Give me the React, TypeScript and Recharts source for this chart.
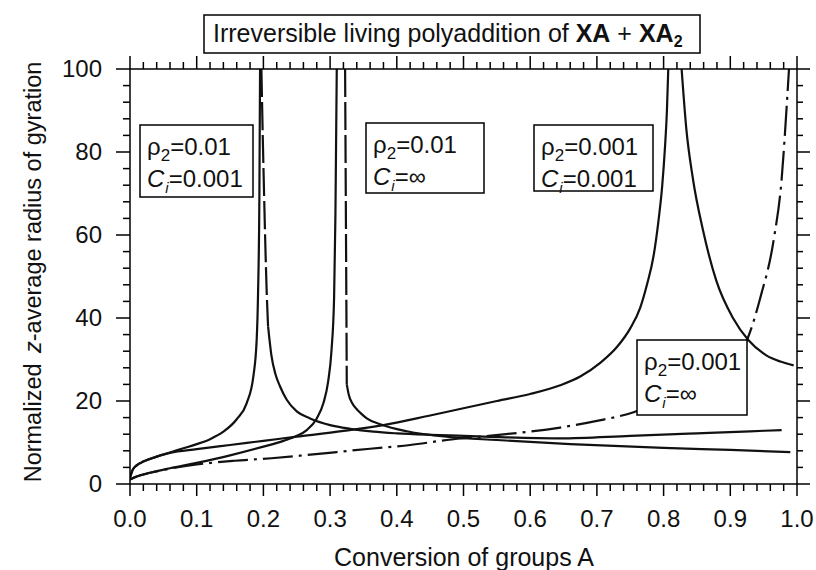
import React from "react";
import { LineChart, Line, XAxis, YAxis } from "recharts";

const FONT = '"Liberation Sans", Arial, Helvetica, sans-serif';

// axis tick labels
const X_LABELS = [0, 0.1, 0.2, 0.3, 0.4, 0.5, 0.6, 0.7, 0.8, 0.9, 1.0];
const Y_LABELS = [0, 20, 40, 60, 80, 100];
// minor tick positions (every 0.02 on x, every 4 on y)
const X_TICKS = Array.from({ length: 51 }, (_, i) => (i * 2) / 100);
const Y_TICKS = Array.from({ length: 26 }, (_, i) => i * 4);

// rho2 = 0.01, Ci = 0.001 : pre-gel branch
const A_X = [0, 0.004, 0.01, 0.02, 0.04, 0.06, 0.08, 0.1, 0.12, 0.14, 0.16, 0.175, 0.185, 0.19, 0.192, 0.194, 0.195];
const A_Y = [1.5, 3.4, 4.5, 5.4, 6.6, 7.6, 8.6, 9.6, 10.8, 12.6, 15.6, 19.5, 26, 35, 46, 70, 100];
// rho2 = 0.01, Ci = 0.001 : post-gel branch (dashed part, then solid)
const E_DASH_X = [0.197, 0.199, 0.201, 0.203, 0.205, 0.207];
const E_DASH_Y = [100, 84, 70, 57, 46, 38];
const E_X = [0.207, 0.212, 0.218, 0.225, 0.235, 0.25, 0.27, 0.3, 0.33, 0.365, 0.4, 0.465, 0.55, 0.645, 0.75, 0.85, 0.93, 0.977];
const E_Y = [38, 31, 26.5, 23.5, 20.3, 17.5, 15.8, 14.2, 13.3, 12.6, 12.2, 11.8, 11.3, 11.0, 11.6, 12.2, 12.7, 13];

// rho2 = 0.01, Ci = inf : pre-gel branch
const B_X = [0, 0.01, 0.03, 0.06, 0.1, 0.15, 0.2, 0.23, 0.25, 0.265, 0.28, 0.29, 0.297, 0.302, 0.306, 0.308, 0.31];
const B_Y = [1.1, 1.8, 2.7, 3.8, 5.1, 6.9, 9.0, 10.4, 11.6, 13, 15.8, 19.5, 24.6, 32, 45, 65, 100];
// rho2 = 0.01, Ci = inf : post-gel branch
const G_DASH_X = [0.3225, 0.3235, 0.3245, 0.325];
const G_DASH_Y = [100, 70, 40, 24];
const G_X = [0.325, 0.328, 0.333, 0.34, 0.345, 0.355, 0.375, 0.415, 0.48, 0.55, 0.66, 0.8, 0.9, 0.99];
const G_Y = [24, 21.5, 19.5, 18, 17.2, 15.8, 14.4, 12.7, 11.3, 10.6, 9.6, 8.7, 8.2, 7.7];

// rho2 = 0.001, Ci = 0.001 : pre-gel and post-gel
const F_X = [0, 0.004, 0.01, 0.02, 0.04, 0.06, 0.1, 0.15, 0.2, 0.25, 0.32, 0.38, 0.45, 0.55, 0.6, 0.645, 0.675, 0.705, 0.73, 0.75, 0.765, 0.775, 0.785, 0.792, 0.798, 0.802, 0.805, 0.807];
const F_Y = [1.5, 3.4, 4.5, 5.4, 6.6, 7.5, 8.4, 9.4, 10.4, 11.4, 12.8, 14.2, 16.5, 20, 21.7, 23.8, 25.9, 29.2, 33, 37.5, 42.5, 48, 55, 63, 72, 81, 90, 100];
const H_X = [0.827, 0.834, 0.844, 0.859, 0.879, 0.904, 0.927, 0.954, 0.975, 0.995];
const H_Y = [100, 85.7, 73.5, 61.2, 49, 40, 34.7, 31, 29.5, 28.6];

// rho2 = 0.001, Ci = inf
const D_X = [0, 0.01, 0.03, 0.06, 0.1, 0.157, 0.212, 0.26, 0.31, 0.36, 0.42, 0.475, 0.545, 0.645, 0.7, 0.755, 0.8, 0.85, 0.9, 0.925, 0.945, 0.965, 0.977, 0.985, 0.988];
const D_Y = [1.1, 1.8, 2.7, 3.7, 4.7, 5.6, 6.2, 6.9, 7.7, 8.5, 9.4, 10.6, 11.7, 13.6, 15.2, 17.3, 20.2, 24, 29.5, 34.7, 44.9, 58.8, 73.5, 92.2, 100];

const zip = (xs: number[], ys: number[]) => xs.map((x, i) => ({ x, y: ys[i] }));

const NOTES = [
  { rho: "0.01", ci: "0.001", x: 140, y: 125, w: 113, h: 72 },
  { rho: "0.01", ci: "\u221e", x: 366, y: 123, w: 118, h: 70 },
  { rho: "0.001", ci: "0.001", x: 534, y: 125, w: 119, h: 66 },
  { rho: "0.001", ci: "\u221e", x: 637, y: 340, w: 110, h: 75 },
];

const near = (list: number[], v: number) => list.some((t) => Math.abs(t - v) < 1e-9);

const BottomTick = (props: any) => {
  const { x, y, payload } = props;
  const major = near(X_LABELS, payload.value);
  return (
    <g>
      <line x1={x} x2={x} y1={y} y2={y + (major ? 12 : 7)} stroke="#000" strokeWidth={1.5} />
      {major && (
        <text x={x} y={y + 43} textAnchor="middle" fontSize={24} fontFamily={FONT} fill="#111">
          {payload.value.toFixed(1)}
        </text>
      )}
    </g>
  );
};

const TopTick = (props: any) => {
  const { x, y, payload } = props;
  const major = near(X_LABELS, payload.value);
  return <line x1={x} x2={x} y1={y} y2={y - (major ? 13 : 7)} stroke="#000" strokeWidth={1.5} />;
};

const LeftTick = (props: any) => {
  const { x, y, payload } = props;
  const major = near(Y_LABELS, payload.value);
  return (
    <g>
      <line x1={x} x2={x - (major ? 14 : 7)} y1={y} y2={y} stroke="#000" strokeWidth={1.5} />
      {major && (
        <text x={x - 28} y={y + 8} textAnchor="end" fontSize={24} fontFamily={FONT} fill="#111">
          {payload.value}
        </text>
      )}
    </g>
  );
};

const RightTick = (props: any) => {
  const { x, y, payload } = props;
  const major = near(Y_LABELS, payload.value);
  return <line x1={x} x2={x + (major ? 13 : 6)} y1={y} y2={y} stroke="#000" strokeWidth={1.5} />;
};

const axisLine = { stroke: "#000", strokeWidth: 1.5 };

export default function App() {
  const lines: { data: { x: number; y: number }[]; dash?: string }[] = [
    { data: zip(A_X, A_Y) },
    { data: zip(E_DASH_X, E_DASH_Y), dash: "28 5" },
    { data: zip(E_X, E_Y) },
    { data: zip(B_X, B_Y) },
    { data: zip(G_DASH_X, G_DASH_Y), dash: "28 5" },
    { data: zip(G_X, G_Y) },
    { data: zip(F_X, F_Y) },
    { data: zip(H_X, H_Y) },
    { data: zip(D_X, D_Y), dash: "30 6 3 6" },
  ];

  return (
    <div style={{ position: "absolute", left: 0, top: 0, width: 816, height: 570, background: "#fff" }}>
      <LineChart width={816} height={570} margin={{ top: 54, right: 4, bottom: 36, left: 70 }}>
        <XAxis
          xAxisId="bottom"
          type="number"
          dataKey="x"
          domain={[0, 1]}
          ticks={X_TICKS}
          interval={0}
          height={50}
          tickSize={0}
          tickMargin={0}
          tickLine={false}
          tick={(p: any) => <BottomTick {...p} />}
          axisLine={axisLine}
          allowDataOverflow
        />
        <XAxis
          xAxisId="top"
          orientation="top"
          type="number"
          dataKey="x"
          domain={[0, 1]}
          ticks={X_TICKS}
          interval={0}
          height={15}
          tickSize={0}
          tickMargin={0}
          tickLine={false}
          tick={(p: any) => <TopTick {...p} />}
          axisLine={axisLine}
          allowDataOverflow
        />
        <YAxis
          yAxisId="left"
          type="number"
          domain={[0, 100]}
          ticks={Y_TICKS}
          interval={0}
          width={60}
          tickSize={0}
          tickMargin={0}
          tickLine={false}
          tick={(p: any) => <LeftTick {...p} />}
          axisLine={axisLine}
          allowDataOverflow
        />
        <YAxis
          yAxisId="right"
          orientation="right"
          type="number"
          domain={[0, 100]}
          ticks={Y_TICKS}
          interval={0}
          width={15}
          tickSize={0}
          tickMargin={0}
          tickLine={false}
          tick={(p: any) => <RightTick {...p} />}
          axisLine={axisLine}
          allowDataOverflow
        />
        {lines.map((l, i) => (
          <Line
            key={i}
            xAxisId="bottom"
            yAxisId="left"
            data={l.data}
            dataKey="y"
            type="monotone"
            stroke="#111"
            strokeWidth={2.2}
            strokeDasharray={l.dash}
            dot={false}
            activeDot={false}
            isAnimationActive={false}
          />
        ))}
      </LineChart>

      <svg
        width={816}
        height={570}
        style={{ position: "absolute", left: 0, top: 0, pointerEvents: "none" }}
        fontFamily={FONT}
      >
        <rect x={204} y={15} width={496} height={38} fill="#fff" stroke="#000" strokeWidth={1.5} />
        <text x={213} y={42} fontSize={25} fill="#111">
          Irreversible living polyaddition of <tspan fontWeight="bold">XA</tspan> +{" "}
          <tspan fontWeight="bold">XA</tspan>
          <tspan fontWeight="bold" fontSize={16} dy={5}>2</tspan>
        </text>

        {NOTES.map((n, i) => (
          <g key={i}>
            <rect x={n.x} y={n.y} width={n.w} height={n.h} fill="#fff" stroke="#000" strokeWidth={1.5} />
            <text x={n.x + 7} y={n.y + 30} fontSize={24} fill="#111">
              {"\u03c1"}
              <tspan fontSize={17} dy={6}>2</tspan>
              <tspan dy={-6}>={n.rho}</tspan>
            </text>
            <text x={n.x + 7} y={n.y + 62} fontSize={24} fill="#111">
              <tspan fontStyle="italic">C</tspan>
              <tspan fontStyle="italic" fontSize={15} dy={6} dx={1}>i</tspan>
              <tspan dy={-6}>={n.ci}</tspan>
            </text>
          </g>
        ))}

        <text x={464} y={566} textAnchor="middle" fontSize={25} fill="#111">
          Conversion of groups A
        </text>
        <text x={41} y={272} textAnchor="middle" fontSize={23.5} fill="#111" transform="rotate(-90 41 272)">
          Normalized <tspan fontStyle="italic" dx={4}>z</tspan>-average radius of gyration
        </text>
      </svg>
    </div>
  );
}
